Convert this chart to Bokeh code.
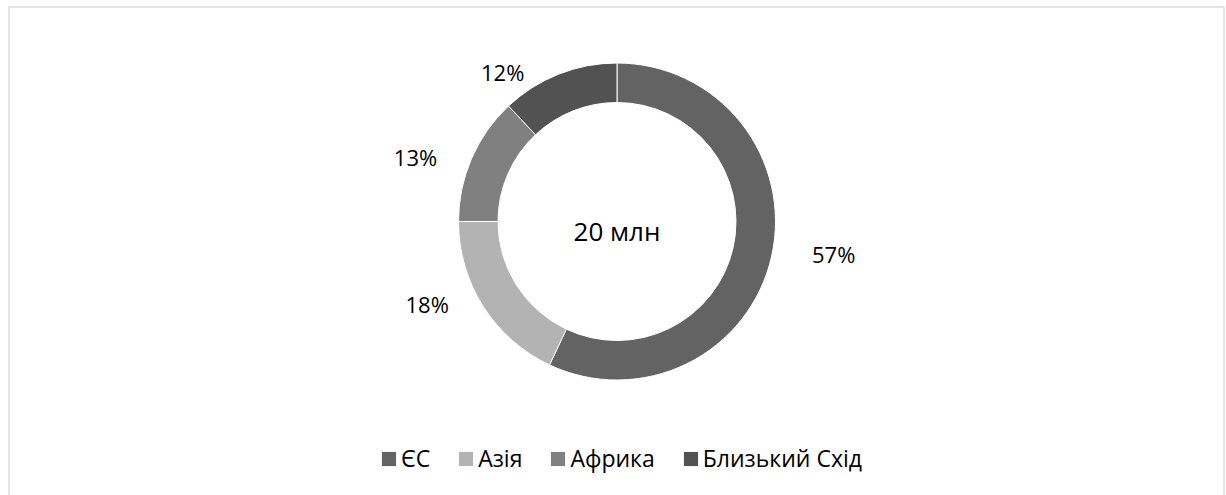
import math
from bokeh.plotting import figure
from bokeh.models import Range1d, BoxAnnotation, Legend, LegendItem, ColumnDataSource
from bokeh.core.properties import value
from bokeh.embed import file_html
from bokeh.resources import INLINE

# ---- data ----
categories = ["ЄС", "Азія", "Африка", "Близький Схід"]
shares = [57, 18, 13, 12]
center_label = "20 млн"

# ---- style ----
colors = ["#636363", "#b3b3b3", "#808080", "#525252"]
FONT = "Open Sans"
W, H = 1226, 495
CX, CY = 616.5, H - 221.0
R_OUT, R_IN = 158.5, 119.0

p = figure(width=W, height=H, output_backend="svg", toolbar_location=None,
           x_range=Range1d(0, W), y_range=Range1d(0, H), min_border=0)
p.axis.visible = False
p.grid.visible = False
p.outline_line_color = None
p.background_fill_color = "white"
p.border_fill_color = "white"

# frame border (bottom edge falls outside the window)
p.add_layout(BoxAnnotation(left=8.5, right=1223.5, top=H - 6.5, bottom=-20,
                           fill_alpha=0, line_color="#8a8a8a", line_width=1.5))

total = float(sum(shares))
renderers = []
cum = 0.0
label_x, label_y, label_t = [], [], []
for cat, v, c in zip(categories, shares, colors):
    t1 = cum / total * 2 * math.pi          # clockwise from 12 o'clock
    t2 = (cum + v) / total * 2 * math.pi
    cum += v
    src = ColumnDataSource(dict(x=[CX], y=[CY],
                                s=[math.pi / 2 - t2], e=[math.pi / 2 - t1]))
    r = p.annular_wedge(x="x", y="y", inner_radius=R_IN, outer_radius=R_OUT,
                        start_angle="s", end_angle="e", direction="anticlock",
                        fill_color=c, line_color="white", line_width=1, source=src)
    renderers.append((cat, r))
    tm = (t1 + t2) / 2
    ex = CX + R_OUT * math.sin(tm)
    ey = CY + R_OUT * math.cos(tm)
    label_x.append(ex + (62 if math.sin(tm) > 0 else -56))
    label_y.append(ey + 2)
    label_t.append(f"{v}%")

p.text(x=label_x, y=label_y, text=label_t, text_align="center", text_baseline="middle",
       text_font=value(FONT), text_font_size="22px", text_color="#000000")

p.text(x=[CX], y=[CY - 9], text=[center_label], text_align="center", text_baseline="middle",
       text_font=value(FONT), text_font_size="26px", text_color="#000000")

legend = Legend(items=[LegendItem(label=c, renderers=[r]) for c, r in renderers],
                orientation="horizontal", location=(379, 21),
                glyph_width=19, glyph_height=19, label_standoff=3, spacing=26,
                label_text_font=FONT, label_text_font_size="23px",
                label_text_color="#000000", border_line_color=None,
                background_fill_alpha=0, padding=0, margin=0)
p.add_layout(legend)

open("out.html", "w").write(file_html(p, INLINE))
